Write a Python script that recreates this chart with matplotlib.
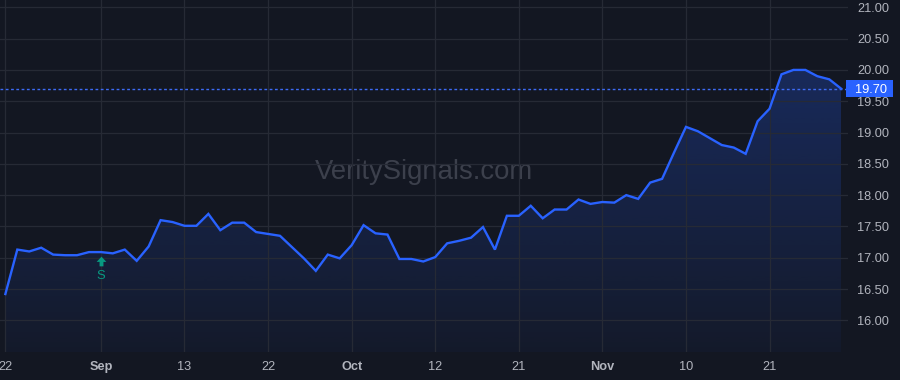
import numpy as np
import matplotlib
matplotlib.use("Agg")
import matplotlib.pyplot as plt
from matplotlib.patches import Polygon, Rectangle
from matplotlib.path import Path
from matplotlib.transforms import ScaledTranslation, blended_transform_factory

# ---------------- data ----------------
values = [16.42, 17.13, 17.10, 17.16, 17.05, 17.04, 17.04, 17.09, 17.09, 17.07,
          17.13, 16.95, 17.18, 17.60, 17.57, 17.51, 17.51, 17.70, 17.44, 17.56,
          17.56, 17.41, 17.38, 17.35, 17.17, 16.99, 16.79, 17.05, 16.99, 17.20,
          17.52, 17.39, 17.37, 16.98, 16.98, 16.94, 17.01, 17.23, 17.27, 17.32,
          17.49, 17.13, 17.67, 17.67, 17.83, 17.63, 17.77, 17.77, 17.93, 17.86,
          17.89, 17.88, 18.00, 17.94, 18.20, 18.26, 18.68, 19.09, 19.02, 18.91,
          18.80, 18.76, 18.66, 19.18, 19.38, 19.93, 20.00, 20.00, 19.90, 19.85,
          19.70]
tick_bars = [0, 8, 15, 22, 29, 36, 43, 50, 57, 64]
tick_labels = ["22", "Sep", "13", "22", "Oct", "12", "21", "Nov", "10", "21"]
month_labels = {"Sep", "Oct", "Nov"}
y_ticks = [16.0, 16.5, 17.0, 17.5, 18.0, 18.5, 19.0, 19.5, 20.0, 20.5, 21.0]
last_price = 19.70
signal_bar = 8
signal_text = "S"
watermark = "VeritySignals.com"

# ---------------- style ----------------
BG = "#131722"
GRID = "#262a35"
TXT = "#b2b5be"
BLUE = "#2962ff"
GREEN = "#089981"
FONT = "Liberation Sans"

W, H = 900, 380
fig = plt.figure(figsize=(W / 100, H / 100), dpi=100, facecolor=BG)
ax_left, ax_right, ax_bottom, ax_top = 0, 848, 28, 380
ax = fig.add_axes([ax_left / W, ax_bottom / H, (ax_right - ax_left) / W, (ax_top - ax_bottom) / H])
ax.set_facecolor(BG)

x = np.arange(len(values))
y = np.array(values)

ymin, ymax = 15.494, 21.117
ax.set_xlim(-0.45, len(values) - 1 + 0.57)
ax.set_ylim(ymin, ymax)

# gradient fill under line
grad = np.linspace(0, 1, 256).reshape(-1, 1)
rgba = np.zeros((256, 1, 4))
rgba[..., 0] = 0x29 / 255
rgba[..., 1] = 0x62 / 255
rgba[..., 2] = 0xff / 255
rgba[..., 3] = (0.04 + 0.27 * grad)[:, :]
im = ax.imshow(rgba, aspect="auto", origin="lower",
               extent=[x[0], x[-1], ymin, ymax], zorder=1, interpolation="bilinear")
verts = [(x[0], ymin)] + list(zip(x, y)) + [(x[-1], ymin)]
poly = Polygon(verts, closed=True, facecolor="none", edgecolor="none")
ax.add_patch(poly)
im.set_clip_path(poly)

ax.plot(x, y, color=BLUE, lw=1.7, zorder=3, solid_joinstyle="miter")

# last price dotted line
ax.axhline(last_price, color="#3d6bf5", lw=1.0, ls=(0, (2.0, 1.8)), zorder=2)

# grid
ax.set_xticks(tick_bars)
ax.set_yticks(y_ticks)
ax.grid(True, color=GRID, lw=0.9, zorder=0)
for s in ax.spines.values():
    s.set_visible(False)

ax.yaxis.tick_right()
ax.tick_params(axis="y", length=0, pad=6.5, labelsize=9.2, labelcolor=TXT)
ax.tick_params(axis="x", length=0, pad=6.5, labelsize=9.2, labelcolor=TXT)
ax.set_yticklabels([f"{v:.2f}" for v in y_ticks], fontfamily=FONT)
ax.set_xticklabels(tick_labels, fontfamily=FONT)
for lbl in ax.get_xticklabels():
    if lbl.get_text() in month_labels:
        lbl.set_fontweight("bold")

# watermark
ax.text(0.5, 0.512, watermark, transform=ax.transAxes, ha="center", va="center",
        fontsize=19.8, color="#3c404c", fontfamily=FONT, zorder=0.5)

# signal arrow + label
arrow_path = Path([(0, 0.5), (0.5, -0.04), (0.2, -0.04), (0.2, -0.5),
                   (-0.2, -0.5), (-0.2, -0.04), (-0.5, -0.04), (0, 0.5)], closed=True)
arrow_tr = ax.transData + ScaledTranslation(0, -6.6 / 72, fig.dpi_scale_trans)
ax.plot([signal_bar], [values[signal_bar]], marker=arrow_path, markersize=7.0,
        color=GREEN, markeredgewidth=0, transform=arrow_tr, zorder=4, clip_on=False)
ax.annotate(signal_text, (signal_bar, values[signal_bar]), xytext=(0, -17.2),
            textcoords="offset points", ha="center", va="center", color=GREEN,
            fontsize=9.4, fontfamily=FONT, zorder=4)

# price label box on the right axis
px_per_unit = (ax_top - ax_bottom) / (ymax - ymin)
box_h = 17 / px_per_unit
bt = blended_transform_factory(fig.transFigure, ax.transData)
rect = Rectangle((846 / W, last_price - box_h / 2), 47 / W, box_h, transform=bt,
                 facecolor=BLUE, edgecolor="none", clip_on=False, zorder=5)
fig.add_artist(rect)
t = fig.text(855 / W, 0, f"{last_price:.2f}", color="white", fontsize=9.2,
             fontfamily=FONT, ha="left", va="center_baseline", zorder=6)
t.set_transform(bt)
t.set_y(last_price)

fig.savefig("out.png", dpi=100, facecolor=BG)
